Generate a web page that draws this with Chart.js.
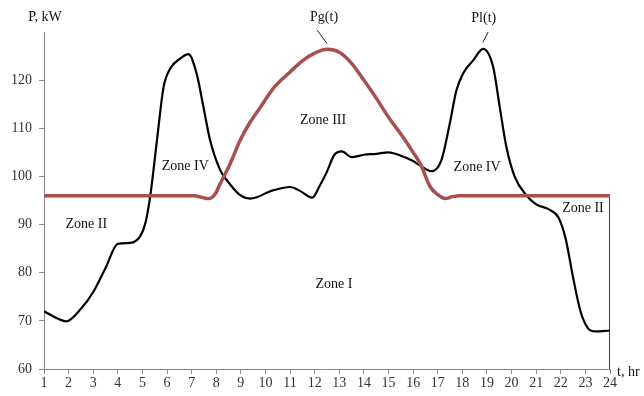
<!DOCTYPE html>
<html>
<head>
<meta charset="utf-8">
<script src="https://cdn.jsdelivr.net/npm/chart.js@4/dist/chart.umd.min.js"></script>
<style>
  html, body { margin: 0; padding: 0; background: #fff; }
  #wrap { width: 644px; height: 396px; }
</style>
</head>
<body>
<div id="wrap"><canvas id="powerChart" width="644" height="396"></canvas></div>
<script>
// load curve Pl(t)
const loadT = [1, 1.5, 1.9, 2.5, 3, 3.5, 4, 4.5, 4.9, 5.12, 5.32, 5.59, 5.86, 6.13, 6.54, 6.87, 7.2, 7.48, 7.75, 8.16, 8.43, 8.97, 9.38,
  10.3, 11, 11.4, 11.9, 12.2, 12.5, 12.8, 13.1, 13.5, 14, 14.5, 15, 15.5, 16, 16.27, 16.75, 17.15, 17.49, 17.76, 18.03, 18.44,
  18.84, 19.25, 19.52, 19.79, 20.13, 20.6, 21, 21.5, 21.9, 22.2, 22.5, 22.8, 23.1, 23.4, 24];
const loadP = [72, 70.6, 69.9, 72.5, 76, 81, 86, 86.2, 87.5, 90.3, 96, 107.5, 118.6, 122.4, 124.5, 125.4, 121.4, 114.4, 107.5, 101.3, 99.2, 96.1, 95.4,
  97.1, 97.8, 97, 95.6, 98, 101, 104.5, 105.2, 104, 104.5, 104.7, 105, 104.3, 103.2, 102.3, 101.1, 103.4, 111, 117.9, 121.4, 124.1,
  126.5, 122.8, 114.4, 106.1, 99.9, 96.1, 94.2, 93.2, 91.5, 87, 79, 72, 68.5, 67.8, 68];

// generation curve Pg(t)
const genT = [1, 7.1, 7.45, 7.7, 7.95, 8.16, 8.57, 8.97, 9.38, 9.8, 10.3, 11, 11.5, 12, 12.5, 13, 13.5, 14, 14.5, 15, 15.5, 16, 16.3, 16.7, 17, 17.3, 17.6, 17.9, 24];
const genP = [96, 96, 95.6, 95.4, 96.3, 98.5, 102.7, 107.5, 111.3, 114.4, 118.2, 121.7, 124, 125.6, 126.4, 125.8, 123.5, 120, 116.3, 112.3, 108.8, 105, 102.5, 97.8, 96.2, 95.4, 95.8, 96, 96];

// right-hand closing line at t = 24
const edgeT = [24, 24];
const edgeP = [96, 60];

// zone and curve labels [text, t, P]
const zoneLabels = [
  ['Zone IV', 6.74, 102.1],
  ['Zone III', 12.34, 111.7],
  ['Zone IV', 18.6, 101.9],
  ['Zone II', 2.72, 90.1],
  ['Zone II', 22.9, 93.4],
  ['Zone I', 12.78, 77.6],
  ['Pg(t)', 12.38, 133.0],
  ['Pl(t)', 18.87, 132.8]
];
// leader lines [t1, P1, t2, P2]
const leaders = [
  [12.1, 130.4, 12.5, 127.6],
  [19.05, 130.0, 18.83, 127.8]
];

const yTicks = [60, 70, 80, 90, 100, 110, 120];

const toPts = (xs, ys) => xs.map((x, i) => ({ x: x, y: ys[i] }));
const serif = '"Liberation Serif", "Times New Roman", serif';

const labelPlugin = {
  id: 'labels',
  afterDatasetsDraw(chart) {
    const { ctx, scales: { x, y }, chartArea } = chart;
    ctx.save();
    ctx.fillStyle = '#111';
    ctx.font = '14px ' + serif;
    ctx.textAlign = 'center';
    ctx.textBaseline = 'middle';
    zoneLabels.forEach(([txt, t, p]) => {
      ctx.fillText(txt, x.getPixelForValue(t), y.getPixelForValue(p));
    });
    ctx.strokeStyle = '#222';
    ctx.lineWidth = 1;
    leaders.forEach(([t1, p1, t2, p2]) => {
      ctx.beginPath();
      ctx.moveTo(x.getPixelForValue(t1), y.getPixelForValue(p1));
      ctx.lineTo(x.getPixelForValue(t2), y.getPixelForValue(p2));
      ctx.stroke();
    });
    // axis titles
    ctx.fillText('P, kW', chartArea.left + 1, 17);
    ctx.textAlign = 'left';
    ctx.fillText('t, hr', chartArea.right + 7, chartArea.bottom + 3);
    ctx.restore();
  }
};

new Chart(document.getElementById('powerChart'), {
  type: 'line',
  data: {
    datasets: [
      {
        label: 'Pg(t)',
        data: toPts(genT, genP),
        borderColor: 'rgb(168, 80, 80)',
        borderWidth: 3.5,
        pointRadius: 0,
        cubicInterpolationMode: 'monotone',
        fill: false
      },
      {
        label: 'Pl(t)',
        data: toPts(loadT, loadP),
        borderColor: '#000',
        borderWidth: 2.2,
        pointRadius: 0,
        cubicInterpolationMode: 'monotone',
        fill: false
      },
      {
        label: 'edge',
        data: toPts(edgeT, edgeP),
        borderColor: '#222',
        borderWidth: 1,
        pointRadius: 0,
        fill: false
      }
    ]
  },
  options: {
    responsive: false,
    animation: false,
    devicePixelRatio: 1,
    layout: { padding: { left: 0, right: 34, top: 32, bottom: 0 } },
    plugins: {
      legend: { display: false },
      tooltip: { enabled: false }
    },
    scales: {
      x: {
        type: 'linear',
        min: 1,
        max: 24,
        ticks: { stepSize: 1, color: '#333', font: { family: serif, size: 14 }, padding: 1, maxRotation: 0, autoSkip: false },
        grid: { display: true, drawOnChartArea: false, tickLength: 5, color: '#888' },
        border: { display: true, color: '#888', width: 1 },
        afterFit(scale) { scale.height = 27; }
      },
      y: {
        type: 'linear',
        min: 60,
        max: 130,
        afterBuildTicks(scale) { scale.ticks = yTicks.map(v => ({ value: v })); },
        ticks: { color: '#333', font: { family: serif, size: 14 }, padding: 7 },
        grid: { display: true, drawOnChartArea: false, tickLength: 5, color: '#888' },
        border: { display: true, color: '#888', width: 1 },
        afterFit(scale) { scale.width = 44; }
      }
    }
  },
  plugins: [labelPlugin]
});
</script>
</body>
</html>
